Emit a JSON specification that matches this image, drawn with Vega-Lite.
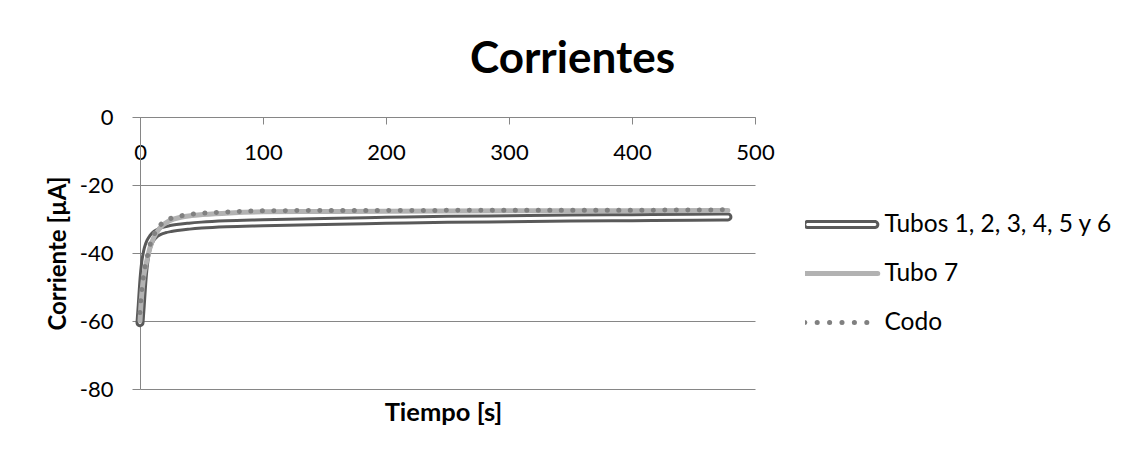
{
  "$schema": "https://vega.github.io/schema/vega-lite/v6.json",
  "width": 615,
  "height": 272,
  "autosize": {"type": "none"},
  "padding": {"left": 140, "top": 117, "right": 377, "bottom": 67},
  "background": "white",
  "title": {
    "text": "Corrientes",
    "font": "Lato",
    "fontSize": 44,
    "fontWeight": "bold",
    "color": "#000000",
    "anchor": "middle",
    "frame": "group",
    "dx": 125,
    "offset": 24
  },
  "config": {
    "view": {"stroke": null},
    "axis": {
      "labelFont": "Lato",
      "labelFontSize": 22,
      "labelColor": "#000000",
      "titleFont": "Lato",
      "titleFontSize": 24,
      "titleFontWeight": "bold",
      "titleColor": "#000000",
      "domainColor": "#868686",
      "tickColor": "#868686",
      "gridColor": "#868686",
      "gridOpacity": 1,
      "domainWidth": 1,
      "tickWidth": 1
    }
  },
  "data": {
    "values": [
      {"t": 0, "v": -60.5, "serie": "Tubos 1, 2, 3, 4, 5 y 6"},
      {"t": 1, "v": -55.5, "serie": "Tubos 1, 2, 3, 4, 5 y 6"},
      {"t": 2, "v": -50, "serie": "Tubos 1, 2, 3, 4, 5 y 6"},
      {"t": 3, "v": -45.5, "serie": "Tubos 1, 2, 3, 4, 5 y 6"},
      {"t": 4, "v": -42.3, "serie": "Tubos 1, 2, 3, 4, 5 y 6"},
      {"t": 5, "v": -40.2, "serie": "Tubos 1, 2, 3, 4, 5 y 6"},
      {"t": 6, "v": -38.6, "serie": "Tubos 1, 2, 3, 4, 5 y 6"},
      {"t": 8, "v": -36.6, "serie": "Tubos 1, 2, 3, 4, 5 y 6"},
      {"t": 10, "v": -35.4, "serie": "Tubos 1, 2, 3, 4, 5 y 6"},
      {"t": 13, "v": -34.3, "serie": "Tubos 1, 2, 3, 4, 5 y 6"},
      {"t": 16, "v": -33.7, "serie": "Tubos 1, 2, 3, 4, 5 y 6"},
      {"t": 20, "v": -33.2, "serie": "Tubos 1, 2, 3, 4, 5 y 6"},
      {"t": 25, "v": -32.8, "serie": "Tubos 1, 2, 3, 4, 5 y 6"},
      {"t": 30, "v": -32.5, "serie": "Tubos 1, 2, 3, 4, 5 y 6"},
      {"t": 40, "v": -32.1, "serie": "Tubos 1, 2, 3, 4, 5 y 6"},
      {"t": 50, "v": -31.8, "serie": "Tubos 1, 2, 3, 4, 5 y 6"},
      {"t": 70, "v": -31.4, "serie": "Tubos 1, 2, 3, 4, 5 y 6"},
      {"t": 100, "v": -31.1, "serie": "Tubos 1, 2, 3, 4, 5 y 6"},
      {"t": 150, "v": -30.7, "serie": "Tubos 1, 2, 3, 4, 5 y 6"},
      {"t": 200, "v": -30.4, "serie": "Tubos 1, 2, 3, 4, 5 y 6"},
      {"t": 250, "v": -30.1, "serie": "Tubos 1, 2, 3, 4, 5 y 6"},
      {"t": 300, "v": -29.9, "serie": "Tubos 1, 2, 3, 4, 5 y 6"},
      {"t": 350, "v": -29.7, "serie": "Tubos 1, 2, 3, 4, 5 y 6"},
      {"t": 400, "v": -29.6, "serie": "Tubos 1, 2, 3, 4, 5 y 6"},
      {"t": 450, "v": -29.5, "serie": "Tubos 1, 2, 3, 4, 5 y 6"},
      {"t": 478, "v": -29.4, "serie": "Tubos 1, 2, 3, 4, 5 y 6"},
      {"t": 0, "v": -60, "serie": "Tubo 7"},
      {"t": 1, "v": -54, "serie": "Tubo 7"},
      {"t": 2, "v": -50, "serie": "Tubo 7"},
      {"t": 3, "v": -47, "serie": "Tubo 7"},
      {"t": 4, "v": -44.8, "serie": "Tubo 7"},
      {"t": 6, "v": -41.5, "serie": "Tubo 7"},
      {"t": 8, "v": -38.6, "serie": "Tubo 7"},
      {"t": 11, "v": -35.6, "serie": "Tubo 7"},
      {"t": 16, "v": -32.7, "serie": "Tubo 7"},
      {"t": 24, "v": -30.5, "serie": "Tubo 7"},
      {"t": 33, "v": -29.5, "serie": "Tubo 7"},
      {"t": 42, "v": -29.0, "serie": "Tubo 7"},
      {"t": 51, "v": -28.7, "serie": "Tubo 7"},
      {"t": 73, "v": -28.2, "serie": "Tubo 7"},
      {"t": 100, "v": -27.9, "serie": "Tubo 7"},
      {"t": 150, "v": -27.8, "serie": "Tubo 7"},
      {"t": 200, "v": -27.7, "serie": "Tubo 7"},
      {"t": 300, "v": -27.6, "serie": "Tubo 7"},
      {"t": 400, "v": -27.6, "serie": "Tubo 7"},
      {"t": 478, "v": -27.5, "serie": "Tubo 7"},
      {"t": 0, "v": -57.5, "serie": "Codo"},
      {"t": 1, "v": -52.5, "serie": "Codo"},
      {"t": 2, "v": -49.3, "serie": "Codo"},
      {"t": 3, "v": -46.5, "serie": "Codo"},
      {"t": 4, "v": -44.4, "serie": "Codo"},
      {"t": 6, "v": -41, "serie": "Codo"},
      {"t": 8, "v": -37.8, "serie": "Codo"},
      {"t": 11, "v": -34.9, "serie": "Codo"},
      {"t": 16, "v": -32, "serie": "Codo"},
      {"t": 24, "v": -30, "serie": "Codo"},
      {"t": 33, "v": -29.1, "serie": "Codo"},
      {"t": 42, "v": -28.6, "serie": "Codo"},
      {"t": 51, "v": -28.3, "serie": "Codo"},
      {"t": 73, "v": -27.9, "serie": "Codo"},
      {"t": 100, "v": -27.6, "serie": "Codo"},
      {"t": 150, "v": -27.5, "serie": "Codo"},
      {"t": 200, "v": -27.5, "serie": "Codo"},
      {"t": 300, "v": -27.4, "serie": "Codo"},
      {"t": 400, "v": -27.4, "serie": "Codo"},
      {"t": 478, "v": -27.3, "serie": "Codo"}
    ]
  },
  "encoding": {
    "x": {
      "field": "t",
      "type": "quantitative",
      "scale": {"domain": [0, 500], "nice": false},
      "axis": {
        "orient": "bottom",
        "offset": -272,
        "values": [0, 100, 200, 300, 400, 500],
        "grid": false,
        "tickSize": 7,
        "labelPadding": 18,
        "title": "Tiempo [s]",
        "titleFontSize": 25.5,
        "titleX": 303,
        "titleY": 295,
        "titleBaseline": "middle",
        "labelFlush": false,
        "labelOverlap": false
      }
    },
    "y": {
      "field": "v",
      "type": "quantitative",
      "scale": {"domain": [-80, 0], "nice": false, "zero": false},
      "axis": {
        "values": [0, -20, -40, -60, -80],
        "labelExpr": "replace(datum.label, '\u2212', '-')",
        "grid": true,
        "tickSize": 8,
        "labelPadding": 19,
        "labelBaseline": "middle",
        "title": "Corriente [µA]",
        "titleX": -82,
        "titleY": 136,
        "titleAngle": -90,
        "titleBaseline": "middle",
        "labelFlush": false,
        "labelOverlap": false
      }
    }
  },
  "layer": [
    {
      "transform": [{"filter": "datum.serie === 'Tubos 1, 2, 3, 4, 5 y 6'"}],
      "mark": {"type": "line", "strokeWidth": 9, "interpolate": "monotone", "strokeCap": "round", "strokeJoin": "round"},
      "encoding": {
        "color": {
          "field": "serie",
          "type": "nominal",
          "scale": {"domain": ["Tubos 1, 2, 3, 4, 5 y 6", "Tubo 7", "Codo"], "range": ["#595959", "#b2b2b2", "#808080"]},
          "legend": {
            "title": null,
            "orient": "none",
            "legendX": 665,
            "legendY": 83,
            "symbolType": "stroke",
            "symbolSize": 5329,
            "symbolStrokeWidth": 5,
            "symbolOffset": 24,
            "clipHeight": 49,
            "rowPadding": 0,
            "labelOffset": 31,
            "labelFont": "Lato",
            "labelFontSize": 24.5,
            "labelColor": "#000000",
            "labelLimit": 400,
            "encode": {
              "symbols": {
                "update": {
                  "size": {"value": 5329},
                  "shape": {"signal": "datum.value === 'Tubos 1, 2, 3, 4, 5 y 6' ? 'M -0.92 -0.082 L 0.92 -0.082 A 0.082 0.082 0 0 1 0.92 0.082 L -0.92 0.082 A 0.082 0.082 0 0 1 -0.92 -0.082 Z' : 'stroke'"},
                  "strokeWidth": {"signal": "datum.value === 'Tubos 1, 2, 3, 4, 5 y 6' ? 3 : 5"},
                  "strokeDash": {"signal": "datum.value === 'Codo' ? [0.1, 12.3] : [1, 0]"},
                  "strokeCap": {"value": "round"},
                  "fill": {"value": "transparent"}
                }
              }
            }
          }
        }
      }
    },
    {
      "transform": [{"filter": "datum.serie === 'Tubos 1, 2, 3, 4, 5 y 6'"}],
      "mark": {"type": "line", "strokeWidth": 3, "color": "#ffffff", "interpolate": "monotone", "strokeCap": "round", "strokeJoin": "round"}
    },
    {
      "transform": [{"filter": "datum.serie === 'Tubo 7'"}],
      "mark": {"type": "line", "strokeWidth": 5, "interpolate": "monotone", "strokeCap": "round", "strokeJoin": "round"},
      "encoding": {"color": {"field": "serie", "type": "nominal"}}
    },
    {
      "transform": [{"filter": "datum.serie === 'Codo'"}],
      "mark": {"type": "line", "strokeWidth": 5, "interpolate": "monotone", "strokeCap": "round", "strokeDash": [0.1, 11.4]},
      "encoding": {"color": {"field": "serie", "type": "nominal"}}
    }
  ]
}
